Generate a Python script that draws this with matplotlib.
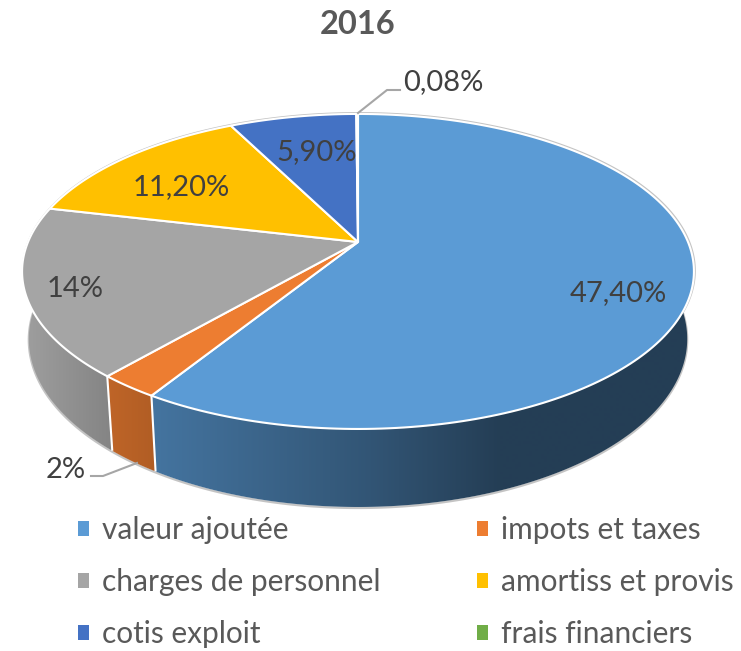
import numpy as np
import matplotlib
matplotlib.use("Agg")
import matplotlib.pyplot as plt
from matplotlib.patches import Patch, Polygon

title = "2016"
categories = ["valeur ajoutée", "impots et taxes", "charges de personnel",
              "amortiss et provis", "cotis exploit", "frais financiers"]
values = [47.40, 2, 14, 11.20, 5.90, 0.08]
value_labels = ["47,40%", "2%", "14%", "11,20%", "5,90%", "0,08%"]
colors = ["#5B9BD5", "#ED7D31", "#A5A5A5", "#FFC000", "#4472C4", "#70AD47"]

W, H = 741, 651
plt.rcParams["font.family"] = ["Lato", "DejaVu Sans"]
fig = plt.figure(figsize=(W / 100, H / 100), dpi=100)
ax = fig.add_axes([0, 0, 1, 1])
ax.axis("off")

CX, CY, A, B, K = 358.0, 242.0, 330.0, 152.0, 0.187


def top_xy(theta, r=1.0):
    u, v = r * np.sin(theta), r * np.cos(theta)
    w = 1 + K * v
    return CX + A * u / w, CY - B * v / w


def bottom_xy(theta):
    x, y = top_xy(theta)
    return CX + 0.98 * (x - CX), CY + 1.067 * (y - CY) + 65.5


def shade(x):
    return np.interp(x, [30, 112, 152, 370, 500, 700], [0.95, 0.80, 0.75, 0.55, 0.40, 0.40])


fr = np.array(values) / np.sum(values)
edges = np.concatenate([[0], np.cumsum(fr)]) * 2 * np.pi

# outer silhouette hairline
full = np.linspace(0, 2 * np.pi, 721)
gx, gy = bottom_xy(full)
ax.add_patch(Polygon(np.c_[gx, gy + 1], closed=True, fc="none", ec="#c4c4c4", lw=1.6, zorder=1))
tx, ty = top_xy(full)
ax.add_patch(Polygon(np.c_[tx + 0.8, ty - 0.8], closed=True, fc="none", ec="#c4c4c4", lw=1.6, zorder=1))

# sides: a horizontal shading ramp clipped to each slice's visible wall
ramp_x = np.arange(0, W + 1)
for i, c in enumerate(colors):
    th = np.linspace(edges[i], edges[i + 1], 400)
    th = th[np.cos(th) < 0.3]
    if len(th) < 2:
        continue
    x0, y0 = top_xy(th)
    x1, y1 = bottom_xy(th)
    wall = Polygon(np.vstack([np.c_[x0, y0], np.c_[x1, y1][::-1]]), closed=True, transform=ax.transData,
                   fc="none", ec="none")
    ax.add_patch(wall)
    rgb = np.array(matplotlib.colors.to_rgb(c))
    img = np.clip(rgb[None, None, :] * shade(ramp_x)[None, :, None], 0, 1)
    im = ax.imshow(img, extent=(0, W, H, 0), aspect="auto", interpolation="bilinear", zorder=2)
    im.set_clip_path(wall)

ax.set_xlim(0, W)
ax.set_ylim(H, 0)

# white seams on the visible side
for e in edges:
    if np.cos(e) < 0:
        x0, y0 = top_xy(e)
        x1, y1 = bottom_xy(e)
        ax.plot([x0, x1], [y0, y1], color="white", lw=1.5, zorder=3, solid_capstyle="butt")

# top face
for i, c in enumerate(colors):
    th = np.linspace(edges[i], edges[i + 1], 200)
    x, y = top_xy(th)
    pts = np.vstack([[CX, CY], np.c_[x, y]])
    ax.add_patch(Polygon(pts, closed=True, fc=c, ec="white", lw=1.5, joinstyle="miter", zorder=4))

# leader lines
ax.plot([358, 387, 400], [113, 90, 90], color="#a6a6a6", lw=1.5, zorder=5)
ax.plot([137, 103, 91], [463, 476, 476], color="#a6a6a6", lw=1.5, zorder=5)

# value labels
label_pos = [(618, 293), (66, 470), (75, 289), (181, 187), (317, 152), (443, 82)]
for s, (lx, ly) in zip(value_labels, label_pos):
    ax.text(lx, ly, s, ha="center", va="center", fontsize=21, color="#404040", zorder=6)

ax.text(358, 24, title, ha="center", va="center", fontsize=23.5, fontweight="bold", color="#595959")

# legend: columns fill first
order = [0, 2, 4, 1, 3, 5]
handles = [Patch(facecolor=colors[i], edgecolor="none", label=categories[i]) for i in order]
leg = ax.legend(handles=handles, loc="upper left", bbox_to_anchor=(78 / W, 1 - 516 / H), ncol=2,
                frameon=False, fontsize=21.5, borderpad=0, borderaxespad=0,
                handlelength=0.37, handleheight=0.37, handletextpad=0.43,
                labelspacing=0.81, columnspacing=3.25, labelcolor="#595959")

fig.savefig("out.png", dpi=100)
